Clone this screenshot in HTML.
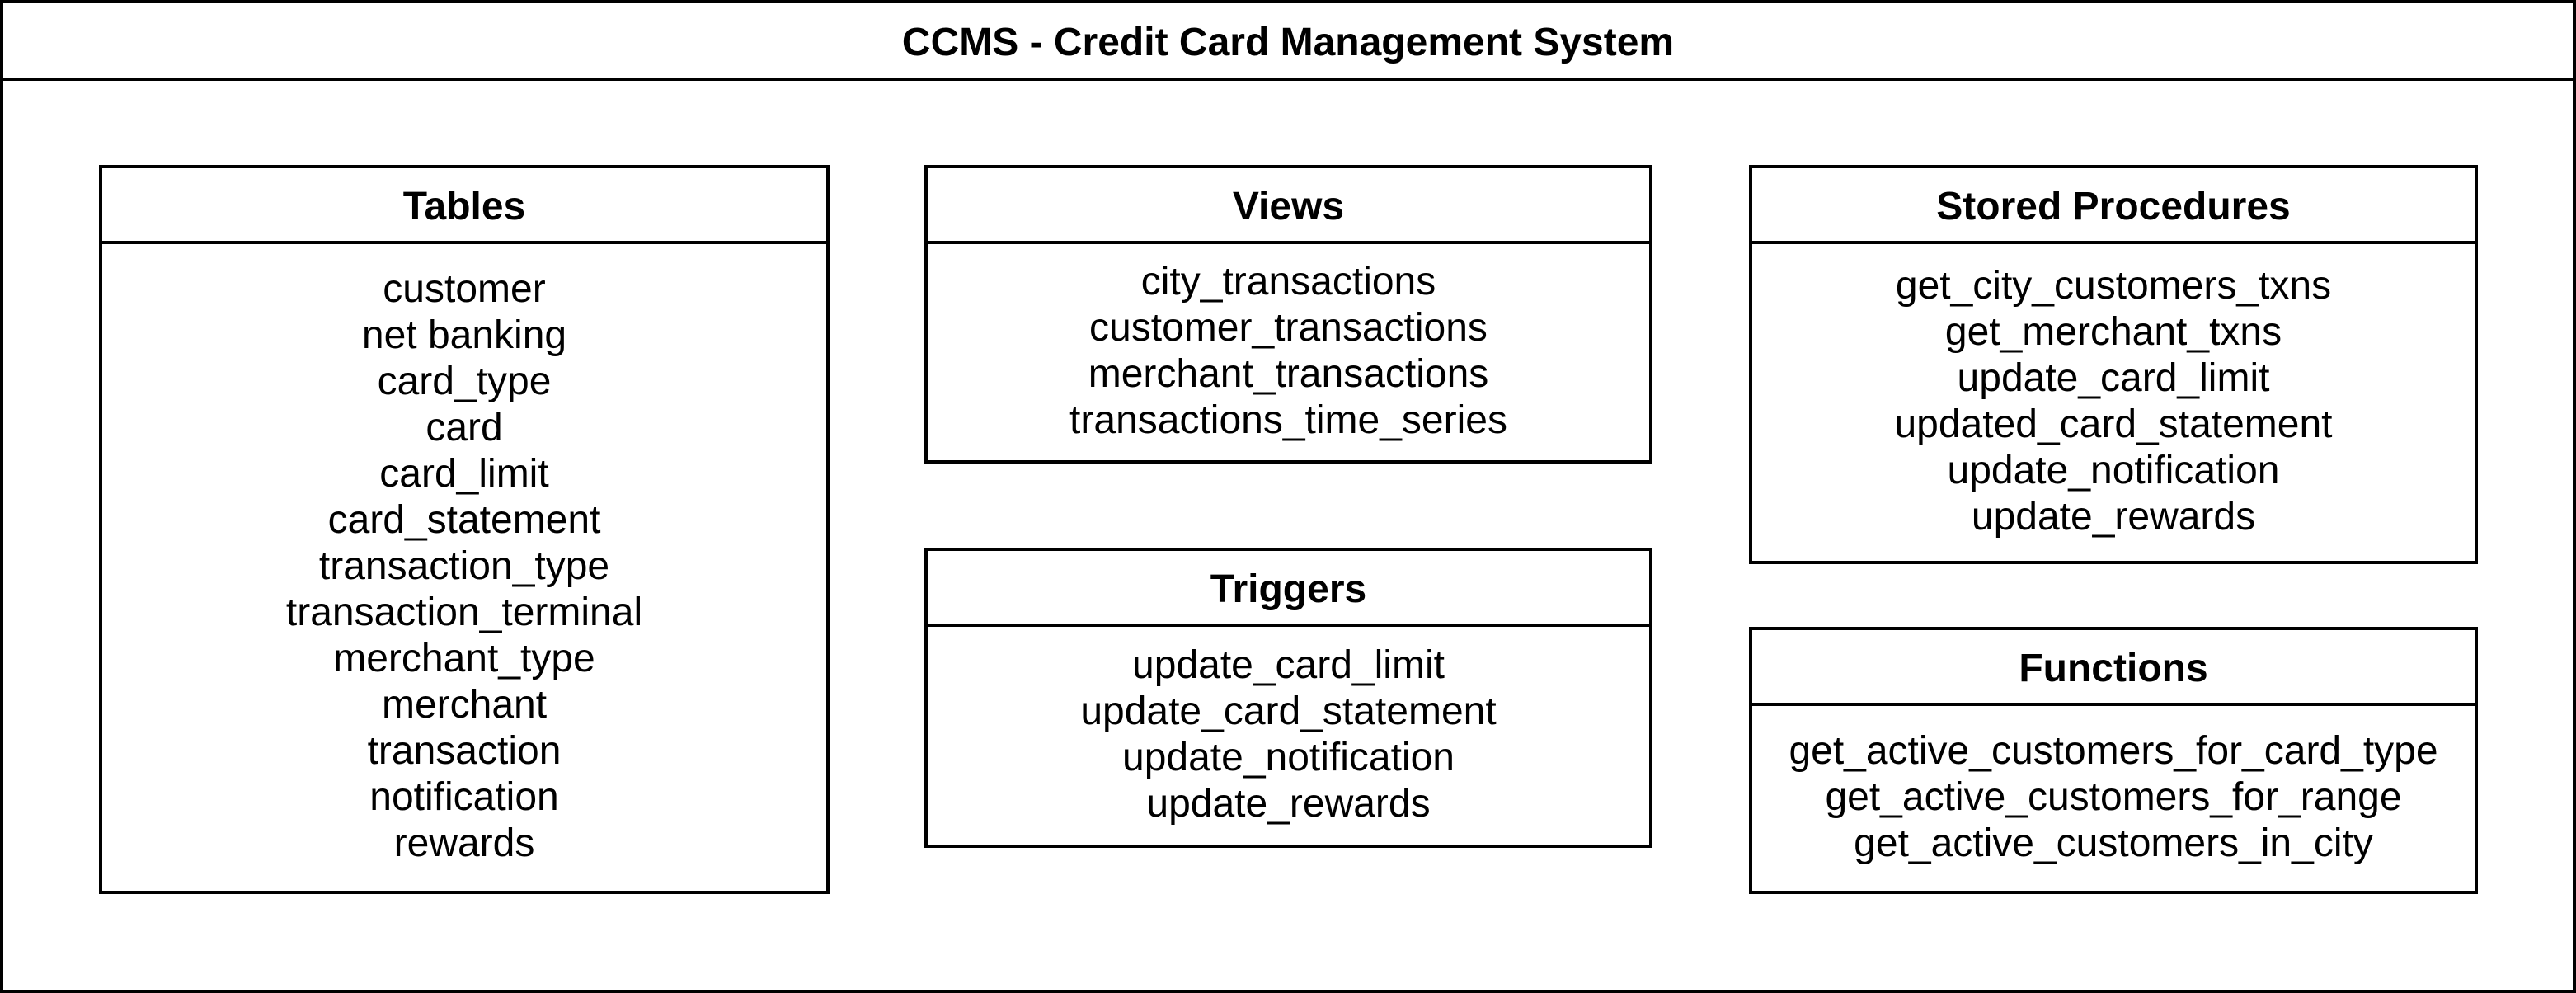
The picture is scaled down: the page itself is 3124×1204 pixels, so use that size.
<!DOCTYPE html>
<html><head><meta charset="utf-8"><style>
html,body{margin:0;padding:0;background:#fff;}
body{width:3124px;height:1204px;position:relative;overflow:hidden;font-family:"Liberation Sans",Arial,sans-serif;color:#000;}
.b{position:absolute;box-sizing:border-box;border:4px solid #000;background:#fff;}
.h{position:absolute;left:0;right:0;top:0;box-sizing:border-box;border-bottom:4px solid #000;display:flex;align-items:center;justify-content:center;font-weight:bold;font-size:48px;padding-top:4px;}
.c{position:absolute;left:0;right:0;bottom:0;display:flex;flex-direction:column;align-items:center;justify-content:center;font-size:48px;line-height:56px;text-align:center;padding-bottom:2px;}
</style></head><body>
<div class="b" style="left:0;top:0;width:3124px;height:1204px;">
  <div class="h" style="height:94px;">CCMS - Credit Card Management System</div>
</div>

<div class="b" style="left:120px;top:200px;width:886px;height:884px;">
  <div class="h" style="height:92px;">Tables</div>
  <div class="c" style="top:92px;"><div>customer</div><div>net banking</div><div>card_type</div><div>card</div><div>card_limit</div><div>card_statement</div><div>transaction_type</div><div>transaction_terminal</div><div>merchant_type</div><div>merchant</div><div>transaction</div><div>notification</div><div>rewards</div></div>
</div>

<div class="b" style="left:1121px;top:200px;width:883px;height:362px;">
  <div class="h" style="height:92px;">Views</div>
  <div class="c" style="top:92px;"><div>city_transactions</div><div>customer_transactions</div><div>merchant_transactions</div><div>transactions_time_series</div></div>
</div>

<div class="b" style="left:1121px;top:664px;width:883px;height:364px;">
  <div class="h" style="height:92px;">Triggers</div>
  <div class="c" style="top:92px;"><div>update_card_limit</div><div>update_card_statement</div><div>update_notification</div><div>update_rewards</div></div>
</div>

<div class="b" style="left:2121px;top:200px;width:884px;height:484px;">
  <div class="h" style="height:92px;">Stored Procedures</div>
  <div class="c" style="top:92px;"><div>get_city_customers_txns</div><div>get_merchant_txns</div><div>update_card_limit</div><div>updated_card_statement</div><div>update_notification</div><div>update_rewards</div></div>
</div>

<div class="b" style="left:2121px;top:760px;width:884px;height:324px;">
  <div class="h" style="height:92px;">Functions</div>
  <div class="c" style="top:92px;"><div>get_active_customers_for_card_type</div><div>get_active_customers_for_range</div><div>get_active_customers_in_city</div></div>
</div>
</body></html>
